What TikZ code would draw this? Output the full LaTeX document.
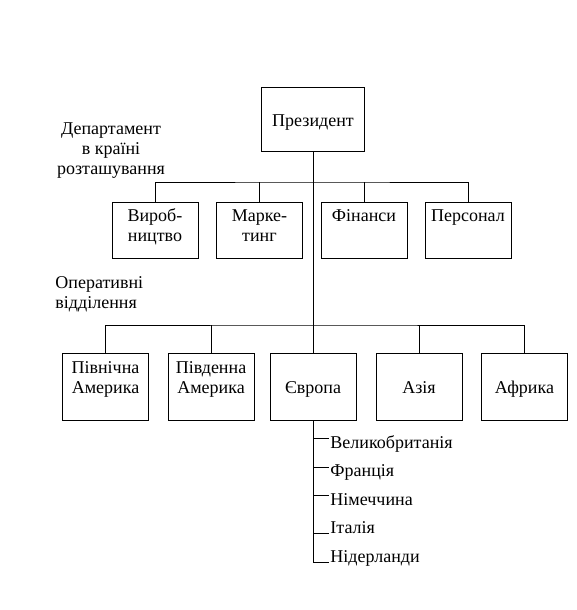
\documentclass[tikz,border=0pt]{standalone}
\usepackage{fontspec}
\setmainfont{Liberation Serif}

\begin{document}
\begin{tikzpicture}[x=1pt, y=-1pt, line width=.9pt,
    every node/.style={font=\fontsize{18}{20}\selectfont},
    box/.style={draw, align=center, minimum width=86pt},
    dept/.style={box, minimum height=56pt, text height=22pt, text depth=0pt},
    region/.style={box, minimum height=67pt, text height=14pt, text depth=0pt},
    country/.style={anchor=base west, inner sep=1pt}]
    \fill[white] (0, 0) rectangle (577, 610);
    \useasboundingbox (0, 0) rectangle (577, 610);

    \node[box, minimum width=103pt, minimum height=64pt, text height=14pt, text depth=0pt] (pres) at (313, 119) {Президент};

    \node[align=center, anchor=north, inner sep=0pt] (deptlabel) at (111, 122) {Департамент\\в країні\\розташування};
    \node[align=left, anchor=north west, inner sep=0pt] (oplabel) at (55, 276) {Оперативні\\відділення};

    \node[dept] (vyr) at (155, 230) {Вироб-\\ництво};
    \node[dept] (mark) at (259.5, 230) {Марке-\\тинг};
    \node[dept] (fin) at (364, 230) {Фінанси\\\mbox{}};
    \node[dept] (pers) at (468, 230) {Персонал\\\mbox{}};

    \node[region] (na) at (105.5, 386.5) {Північна\\Америка};
    \node[region] (sa) at (211, 386.5) {Південна\\Америка};
    \node[region] (eu) at (313, 386.5) {Європа};
    \node[region] (asia) at (419, 386.5) {Азія};
    \node[region] (afr) at (524.5, 386.5) {Африка};

    \node[country] (uk) at (329, 448) {Великобританія};
    \node[country] (fr) at (329, 476.5) {Франція};
    \node[country] (de) at (329, 505) {Німеччина};
    \node[country] (it) at (329, 533.5) {Італія};
    \node[country] (nl) at (329, 562) {Нідерланди};

    \coordinate (deptbar) at (313, 182);
    \coordinate (opbar) at (313, 325);

    % president down to Europe
    \draw (pres.south) -- (eu.north);

    \draw (vyr.north) |- (deptbar) -| (pers.north);
    \foreach \d in {mark, fin}
        \draw (\d.north) -- (\d.north |- deptbar);

    \draw (na.north) |- (opbar) -| (afr.north);
    \foreach \r in {sa, asia}
        \draw (\r.north) -- (\r.north |- opbar);

    % countries of Europe
    \draw (eu.south) |- (nl.base west);
    \draw (eu.south) |- (it.base west);
    \foreach \c in {uk, fr, de}
        \draw (eu.south) |- ([yshift=9.5pt]\c.base west);
\end{tikzpicture}
\end{document}
